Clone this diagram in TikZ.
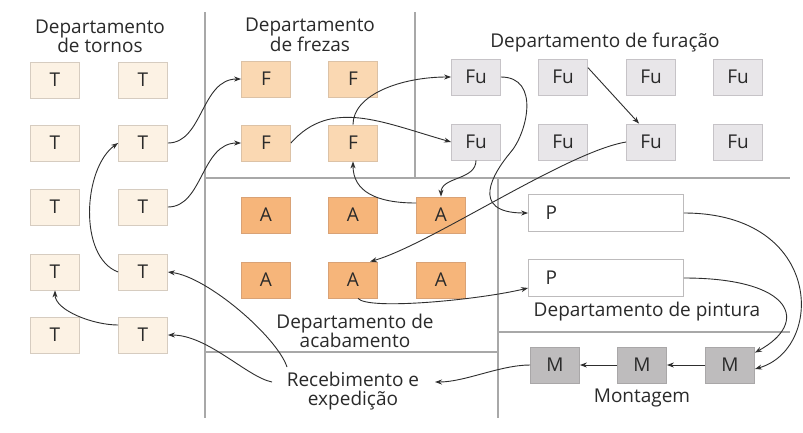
\documentclass[tikz,border=0pt]{standalone}
\usepackage{fontspec}
\setmainfont{Open Sans}
\usetikzlibrary{arrows.meta,calc}
\definecolor{tfill}{HTML}{FCF2E4}
\definecolor{tdraw}{HTML}{D6CCC0}
\definecolor{ffill}{HTML}{FAD8B2}
\definecolor{fdraw}{HTML}{DCC2A6}
\definecolor{afill}{HTML}{F6B57A}
\definecolor{adraw}{HTML}{D9A276}
\definecolor{fufill}{HTML}{E8E6E9}
\definecolor{fudraw}{HTML}{C6C3C7}
\definecolor{pdraw}{HTML}{BDBBBC}
\definecolor{mfill}{HTML}{BEBCBD}
\definecolor{mdraw}{HTML}{A9A7A8}
\definecolor{divider}{HTML}{A8A8A8}
\definecolor{arrowc}{HTML}{2E2E2E}
\definecolor{txt}{HTML}{2A2A2A}
\tikzset{
  box/.style={draw=#1, line width=0.8pt, minimum width=49pt, minimum height=36pt,
    inner sep=0pt, text=txt, font=\fontsize{19}{21}\selectfont},
  tbox/.style={box=tdraw, fill=tfill},
  fbox/.style={box=fdraw, fill=ffill},
  abox/.style={box=adraw, fill=afill},
  fubox/.style={box=fudraw, fill=fufill},
  mbox/.style={box=mdraw, fill=mfill},
  pbox/.style={draw=pdraw, line width=0.8pt, fill=white, minimum height=37pt,
    inner ysep=0pt, inner xsep=17pt, text width=121pt, align=left, text=txt,
    font=\fontsize{19}{21}\selectfont},
  lbl/.style={font=\fontsize{19}{19}\selectfont, align=center, inner sep=0pt, text=txt},
  conn/.style={draw=arrowc, line width=0.9pt, -{Stealth[length=7pt,width=5pt]}},
  divline/.style={draw=divider, line width=1.2pt}
}
\begin{document}
\begin{tikzpicture}[x=1pt,y=-1pt]
\useasboundingbox[fill=white] (0,0) rectangle (803,432);
% dividers
\draw[divline] (205,12) -- (205,418);
\draw[divline] (415,12) -- (415,178);
\draw[divline] (205,178) -- (790,178);
\draw[divline] (498,178) -- (498,418);
\draw[divline] (205,352) -- (498,352);
\draw[divline] (498,332) -- (790,332);
% labels
\node[lbl] (Ltor) at (100,36) {Departamento\\de tornos};
\node[lbl] (Lfre) at (310,35) {Departamento\\de frezas};
\node[lbl] (Lfur) at (605,43) {Departamento de furação};
\node[lbl] (Laca) at (355,331) {Departamento de\\acabamento};
\node[lbl] (Receb) at (353,391) {Recebimento e\\expedição};
\node[lbl] (Lpin) at (647,312) {Departamento de pintura};
\node[lbl] (Lmon) at (642,398) {Montagem};
% tornos
\foreach \r/\y in {1/80,2/143,3/207,4/272,5/335}{
  \node[tbox] (T\r1) at (55,\y) {T};
  \node[tbox] (T\r2) at (143,\y) {T};
}
% frezas
\node[fbox] (F11) at (266,79) {F};
\node[fbox] (F12) at (353,79) {F};
\node[fbox] (F21) at (266,143) {F};
\node[fbox] (F22) at (353,143) {F};
% acabamento
\node[abox] (A11) at (266,215) {A};
\node[abox] (A12) at (353,215) {A};
\node[abox] (A13) at (441,215) {A};
\node[abox] (A21) at (266,280) {A};
\node[abox] (A22) at (353,280) {A};
\node[abox] (A23) at (441,280) {A};
% furacao
\foreach \c/\x in {1/476,2/563,3/651,4/738}{
  \node[fubox] (Fu1\c) at (\x,77) {Fu};
  \node[fubox] (Fu2\c) at (\x,142) {Fu};
}
% pintura
\node[pbox] (P1) at (606,213) {P};
\node[pbox] (P2) at (606,278) {P};
% montagem
\node[mbox] (M1) at (555,365) {M};
\node[mbox] (M2) at (642,365) {M};
\node[mbox] (M3) at (730,365) {M};
% connectors
\draw[conn] (T22.east) .. controls +(35,0) and +(-40,0) .. (F11.west);
\draw[conn] (T32.east) .. controls +(35,0) and +(-40,0) .. (F21.west);
\draw[conn] (T42.west) .. controls +(-40,-15) and +(-35,25) .. (T22.west);
\draw[conn] ($(T52.west)+(0,-10)$) .. controls +(-25,0) and +(0,20) .. (T41.south);
\draw[conn] ($(Receb.center)+(-66,-24)$) .. controls +(-10,-30) and +(40,5) .. (T42.east);
\draw[conn] ($(Receb.center)+(-81,-9)$) .. controls +(-25,-5) and +(40,0) .. (T52.east);
\draw[conn] (M1.west) .. controls +(-30,0) and +(30,0) .. ($(Receb.center)+(82,-9)$);
\draw[conn] (M2.west) -- (M1.east);
\draw[conn] (M3.west) -- (M2.east);
\draw[conn] (P1.east) .. controls +(140,0) and +(70,-20) .. ($(M3.east)+(0,4)$);
\draw[conn] (P2.east) .. controls +(110,0) and +(55,-30) .. ($(M3.north east)+(0,6)$);
\draw[conn] (Fu11.east) .. controls +(40,0) and (527,134) .. (510,153)
  .. controls (494,172) and +(-60,0) .. (P1.west);
\draw[conn] ($(Fu12.north east)+(0,9)$) -- ($(Fu23.north west)+(13,0)$);
\draw[conn] (Fu23.west) .. controls +(-60,10) and +(60,-17) .. ($(A22.north)+(17,0)$);
\draw[conn] (Fu21.south) .. controls +(0,20) and +(0,-20) .. (A13.north);
\draw[conn] ($(A13.west)+(0,-12)$) .. controls +(-40,0) and +(0,30) .. (F22.south);
\draw[conn] (F22.north) .. controls +(0,-30) and +(-50,0) .. (Fu11.west);
\draw[conn] (F21.east) .. controls +(40,-45) and +(-70,-20) .. (Fu21.west);
\draw[conn] ($(A22.south)+(5,0)$) .. controls +(10,12) and +(-50,12) .. ($(P2.west)+(0,10)$);
\end{tikzpicture}
\end{document}
